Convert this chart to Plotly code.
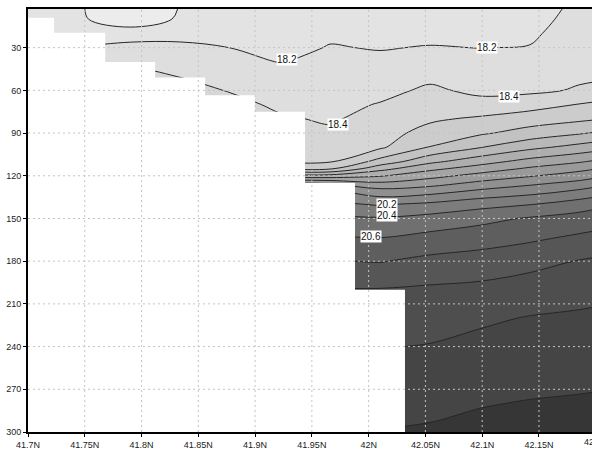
import numpy as np
import plotly.graph_objects as go

# ---- section grid -------------------------------------------------------
# station latitudes (deg N) along the transect
lats = [41.700, 41.746, 41.790, 41.834, 41.878, 41.922, 41.966,
        42.010, 42.054, 42.098, 42.142, 42.186, 42.230]

# model levels (m)
depths = [2.5, 10, 20, 30, 40, 50, 60, 70, 80, 90, 100, 110, 115, 120, 125,
          130, 140, 150, 165, 180, 200, 220, 240, 260, 280, 300]

# temperature profiles, one per station (top to bottom)
st01 = [18.05, 18.07, 18.12, 18.19, 18.28, 18.36, 18.43, 18.48, 18.54, 18.59, 18.66, 18.74, 18.83,
        18.95, 19.15, 19.45, 19.90, 20.21, 20.45, 20.65, 20.85, 20.98, 21.08, 21.18, 21.26, 21.34]
st02 = [18.01, 18.01, 18.10, 18.21, 18.30, 18.38, 18.45, 18.50, 18.56, 18.62, 18.68, 18.76, 18.86,
        19.01, 19.25, 19.55, 19.99, 20.25, 20.48, 20.68, 20.88, 21.01, 21.10, 21.19, 21.28, 21.36]
st03 = [17.90, 17.95, 18.04, 18.30, 18.37, 18.44, 18.50, 18.55, 18.59, 18.65, 18.70, 18.79, 18.92,
        19.10, 19.41, 19.70, 20.10, 20.30, 20.52, 20.72, 20.92, 21.04, 21.14, 21.22, 21.30, 21.38]
st04 = [18.005, 18.01, 18.14, 18.24, 18.32, 18.395, 18.46, 18.52, 18.58, 18.63, 18.68, 18.78, 18.90,
        19.15, 19.50, 19.79, 20.15, 20.35, 20.56, 20.75, 20.95, 21.06, 21.16, 21.24, 21.32, 21.39]
st05 = [18.03, 18.07, 18.13, 18.199, 18.27, 18.33, 18.39, 18.45, 18.50, 18.55, 18.61, 18.70, 18.85,
        19.19, 19.59, 19.90, 20.19, 20.39, 20.59, 20.78, 20.98, 21.08, 21.18, 21.25, 21.33, 21.39]
st06 = [18.04, 18.07, 18.11, 18.14, 18.195, 18.26, 18.31, 18.37, 18.42, 18.45, 18.50, 18.58, 18.77,
        19.27, 19.77, 19.99, 20.24, 20.44, 20.64, 20.81, 21.01, 21.11, 21.19, 21.27, 21.35, 21.41]
st07 = [18.08, 18.12, 18.17, 18.21, 18.24, 18.28, 18.31, 18.35, 18.38, 18.43, 18.50, 18.58, 18.77,
        19.27, 19.77, 20.01, 20.24, 20.44, 20.64, 20.81, 21.01, 21.11, 21.21, 21.28, 21.35, 21.41]
st08 = [18.05, 18.08, 18.13, 18.19, 18.24, 18.30, 18.35, 18.41, 18.46, 18.52, 18.57, 18.87, 19.13,
        19.38, 19.62, 19.84, 20.18, 20.42, 20.62, 20.79, 21.01, 21.10, 21.19, 21.27, 21.34, 21.41]
st09 = [18.06, 18.10, 18.15, 18.21, 18.29, 18.36, 18.43, 18.50, 18.57, 18.67, 18.81, 19.15, 19.35,
        19.53, 19.71, 19.89, 20.24, 20.47, 20.68, 20.85, 21.03, 21.12, 21.21, 21.28, 21.36, 21.42]
st10 = [18.06, 18.10, 18.15, 18.197, 18.26, 18.32, 18.36, 18.46, 18.63, 18.77, 18.99, 19.32, 19.49,
        19.67, 19.84, 20.01, 20.33, 20.54, 20.73, 20.88, 21.05, 21.17, 21.25, 21.32, 21.39, 21.45]
st11 = [18.05, 18.10, 18.16, 18.21, 18.27, 18.32, 18.36, 18.52, 18.70, 18.88, 19.15, 19.47, 19.63,
        19.78, 19.95, 20.10, 20.39, 20.62, 20.78, 20.94, 21.09, 21.21, 21.28, 21.34, 21.41, 21.46]
st12 = [18.28, 18.30, 18.32, 18.34, 18.35, 18.37, 18.42, 18.61, 18.76, 18.98, 19.27, 19.58, 19.74,
        19.90, 20.05, 20.21, 20.50, 20.68, 20.85, 21.01, 21.13, 21.23, 21.30, 21.36, 21.42, 21.47]
st13 = [18.32, 18.33, 18.35, 18.36, 18.37, 18.39, 18.52, 18.68, 18.84, 19.10, 19.41, 19.73, 19.90,
        20.07, 20.23, 20.37, 20.63, 20.75, 20.92, 21.05, 21.17, 21.25, 21.32, 21.38, 21.43, 21.48]
stations = [st01, st02, st03, st04, st05, st06, st07, st08, st09, st10, st11, st12, st13]

# sea-floor depth (m) under the shelf stations; deeper stations reach past 300 m
bottom = [9, 19.5, 40, 51, 63.5, 75, 125, 200]

# contour levels and grey shades (one shade per band, lightest first)
lev_start, lev_end, lev_step = 18.0, 21.4, 0.2
shades = ["#ececec", "#e3e3e3", "#dedede", "#d6d6d6", "#cccccc", "#c2c2c2", "#b8b8b8",
          "#aeaeae", "#a4a4a4", "#9a9a9a", "#909090", "#868686", "#7c7c7c", "#707070",
          "#5e5e5e", "#565656", "#4e4e4e", "#454545", "#363636"]

# labelled contours: (lat, depth, level)
labels = [(41.928, 38.5, 18.2), (42.104, 30.0, 18.2), (41.973, 84.0, 18.4),
          (42.124, 64.0, 18.4), (42.016, 140.3, 20.2), (42.016, 148.0, 20.4),
          (42.002, 162.7, 20.6)]

# axis ticks
xticks = [41.70, 41.75, 41.80, 41.85, 41.90, 41.95, 42.00, 42.05, 42.10, 42.15, 42.20]
xtick_text = ["41.7N", "41.75N", "41.8N", "41.85N", "41.9N", "41.95N", "42N",
              "42.05N", "42.1N", "42.15N", "42.2N"]
yticks = [30, 60, 90, 120, 150, 180, 210, 240, 270, 300]

# ---- figure ---------------------------------------------------------------
x_range = [41.70, 42.1967]
y_range = [300, 2.85]

temp = np.array(stations).T          # rows = depth, columns = station
n_bands = len(shades) - 1
colorscale = [[k / n_bands, c] for k, c in enumerate(shades)]

fig = go.Figure()
fig.add_trace(go.Contour(
    x=lats, y=depths, z=temp,
    autocontour=False,
    contours=dict(start=lev_start, end=lev_end, size=lev_step,
                  coloring="fill", showlabels=False),
    colorscale=colorscale, showscale=False,
    line=dict(color="#262626", width=1, smoothing=1),
    hoverinfo="skip",
))

# land mask: staircase following the sea floor under the shelf stations
edges = [(lats[i] + lats[i + 1]) / 2 for i in range(len(bottom))]
x0 = lats[0] - 0.01
mx, my = [x0, x0], [310, bottom[0]]
for i, b in enumerate(bottom):
    nxt = bottom[i + 1] if i + 1 < len(bottom) else 310
    mx += [edges[i], edges[i]]
    my += [b, nxt]
fig.add_trace(go.Scatter(x=mx, y=my, mode="lines", fill="toself",
                         fillcolor="white", line=dict(width=0, color="white"),
                         hoverinfo="skip"))

# dotted grid drawn over the shading
grid_style = dict(color="#c4c4c4", width=1, dash="2px,3px")
shapes = []
for v in xticks:
    if x_range[0] < v < x_range[1]:
        shapes.append(dict(type="line", xref="x", yref="paper", x0=v, x1=v, y0=0, y1=1,
                           line=grid_style, layer="above"))
for v in yticks:
    if y_range[1] < v < y_range[0]:
        shapes.append(dict(type="line", xref="paper", yref="y", x0=0, x1=1, y0=v, y1=v,
                           line=grid_style, layer="above"))

tick_font = dict(family="Liberation Sans, Arial, sans-serif", size=9, color="#222222")

annotations = []
for lat, dep, lev in labels:
    annotations.append(dict(x=lat, y=dep, xref="x", yref="y", text=f"{lev:.1f}",
                            showarrow=False, bgcolor="white", borderpad=0,
                            font=dict(family="Liberation Sans, Arial, sans-serif",
                                      size=10, color="#111111")))
# last latitude label sits just past the right edge of the frame
span = x_range[1] - x_range[0]
for v, t in zip(xticks, xtick_text):
    if v > x_range[1]:
        annotations.append(dict(x=(v - x_range[0]) / span, y=0, xref="paper", yref="paper",
                                text=t, showarrow=False, xanchor="center", yanchor="top",
                                yshift=-3, font=tick_font))

fig.update_layout(
    width=592, height=450,
    margin=dict(l=28, r=0, t=9, b=14),
    paper_bgcolor="white", plot_bgcolor="white",
    showlegend=False,
    shapes=shapes, annotations=annotations,
    xaxis=dict(range=x_range, tickvals=xticks, ticktext=xtick_text,
               ticks="outside", ticklen=3, tickwidth=1, tickcolor="black",
               showline=True, linewidth=2, linecolor="black", mirror=True,
               showgrid=False, zeroline=False, tickfont=tick_font),
    yaxis=dict(range=y_range, tickvals=yticks,
               ticks="outside", ticklen=3, tickwidth=1, tickcolor="black",
               showline=True, linewidth=2, linecolor="black",
               showgrid=False, zeroline=False, tickfont=tick_font),
)

fig.write_html("out.html")
